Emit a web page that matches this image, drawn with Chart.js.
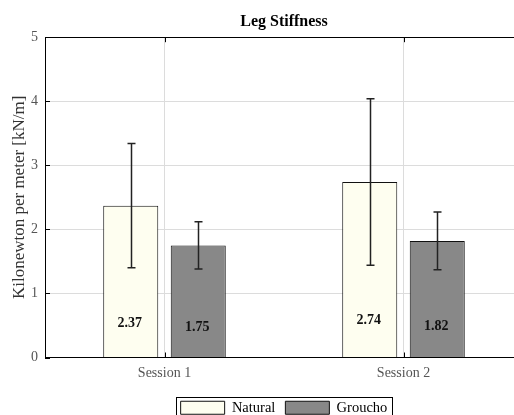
<!DOCTYPE html>
<html>
<head>
    <title>Leg Stiffness</title>
    <script src="https://cdn.jsdelivr.net/npm/chart.js@4.4.1/dist/chart.umd.min.js"></script>
    <style>
        html, body {
            margin: 0;
            padding: 0;
            overflow: hidden;
            background: #fff;
        }

        #chartContainer {
            position: relative;
            width: 514px;
            height: 415px;
            overflow: hidden;
        }
    </style>
</head>
<body>
    <div id="chartContainer">
        <canvas id="stiffnessChart" width="530" height="425"></canvas>
    </div>

    <script>
        const sessions = ['Session 1', 'Session 2'];
        const naturalMean = [2.37, 2.74];
        const naturalSd = [0.97, 1.30];
        const grouchoMean = [1.75, 1.82];
        const grouchoSd = [0.37, 0.45];

        Chart.defaults.font.family = "'Liberation Serif', serif";

        // frame, inner ticks, error bars and value labels
        const extrasPlugin = {
            id: 'extras',
            afterDatasetsDraw(chart) {
                const { ctx, chartArea: a, scales: { x, y } } = chart;
                ctx.save();

                ctx.strokeStyle = '#000';
                ctx.lineWidth = 1;
                ctx.beginPath();
                ctx.moveTo(a.left, Math.round(a.top) + 0.5);
                ctx.lineTo(a.right, Math.round(a.top) + 0.5);
                x.ticks.forEach((t, i) => {
                    const px = Math.round(x.getPixelForTick(i)) + 0.5;
                    ctx.moveTo(px, a.bottom);
                    ctx.lineTo(px, a.bottom - 5);
                    ctx.moveTo(px, a.top);
                    ctx.lineTo(px, a.top + 5);
                });
                y.ticks.forEach((t, i) => {
                    const py = Math.round(y.getPixelForTick(i)) + 0.5;
                    ctx.moveTo(a.left, py);
                    ctx.lineTo(a.left + 5, py);
                });
                ctx.stroke();

                chart.data.datasets.forEach((ds, i) => {
                    const meta = chart.getDatasetMeta(i);
                    meta.data.forEach((bar, j) => {
                        const v = ds.data[j];
                        const e = ds.errors[j];
                        const px = Math.round(bar.x) + 0.5;
                        const top = y.getPixelForValue(v + e);
                        const bot = y.getPixelForValue(v - e);
                        ctx.strokeStyle = '#222';
                        ctx.lineWidth = 1.5;
                        ctx.beginPath();
                        ctx.moveTo(px, top);
                        ctx.lineTo(px, bot);
                        ctx.moveTo(px - 4, top);
                        ctx.lineTo(px + 4, top);
                        ctx.moveTo(px - 4, bot);
                        ctx.lineTo(px + 4, bot);
                        ctx.stroke();

                        ctx.fillStyle = '#111';
                        ctx.font = "bold 14px 'Liberation Serif'";
                        ctx.textAlign = 'center';
                        ctx.textBaseline = 'middle';
                        ctx.fillText(v.toFixed(2), bar.x - 1, y.getPixelForValue(0.3 + v / 10));
                    });
                });
                ctx.restore();
            },
            afterDraw(chart) {
                const boxes = chart.legend.legendHitBoxes;
                if (!boxes || !boxes.length) return;
                const last = boxes[boxes.length - 1];
                const left = Math.round(boxes[0].left - 5) + 0.5;
                const right = Math.round(last.left + last.width + 5) + 0.5;
                const top = Math.round(boxes[0].top - 4) + 0.5;
                const ctx = chart.ctx;
                ctx.save();
                ctx.strokeStyle = '#000';
                ctx.lineWidth = 1;
                ctx.strokeRect(left, top, right - left, 30);
                ctx.restore();
            }
        };

        const ctx = document.getElementById('stiffnessChart').getContext('2d');
        const stiffnessChart = new Chart(ctx, {
            type: 'bar',
            data: {
                labels: sessions,
                datasets: [
                    {
                        label: 'Natural',
                        data: naturalMean,
                        errors: naturalSd,
                        backgroundColor: '#fefef0',
                        borderColor: '#111',
                        borderWidth: 1,
                        borderSkipped: 'start'
                    },
                    {
                        label: 'Groucho',
                        data: grouchoMean,
                        errors: grouchoSd,
                        backgroundColor: '#888888',
                        borderColor: '#111',
                        borderWidth: 1,
                        borderSkipped: 'start'
                    }
                ]
            },
            options: {
                responsive: false,
                animation: false,
                devicePixelRatio: 1,
                categoryPercentage: 0.565,
                barPercentage: 0.815,
                layout: {
                    padding: { left: 0, right: 7, top: 0, bottom: 0 }
                },
                scales: {
                    x: {
                        offset: true,
                        grid: {
                            offset: false,
                            color: '#dcdcdc',
                            drawTicks: false
                        },
                        border: { color: '#000', width: 1 },
                        ticks: {
                            color: '#555',
                            font: { size: 14 },
                            padding: 7
                        },
                        afterFit(scale) {
                            scale.height = 33;
                        }
                    },
                    y: {
                        min: 0,
                        max: 5,
                        grid: {
                            color: '#dcdcdc',
                            drawTicks: false
                        },
                        border: { color: '#000', width: 1 },
                        ticks: {
                            stepSize: 1,
                            color: '#555',
                            font: { size: 14 },
                            padding: 7
                        },
                        title: {
                            display: true,
                            text: 'Kilonewton per meter [kN/m]',
                            color: '#333',
                            font: { size: 17 },
                            padding: { top: 9, bottom: 0 }
                        },
                        afterFit(scale) {
                            scale.width = 45;
                        }
                    }
                },
                plugins: {
                    title: {
                        display: true,
                        fullSize: false,
                        text: 'Leg Stiffness',
                        color: '#000',
                        font: { size: 16, weight: 'bold' },
                        padding: { top: 12, bottom: 6 }
                    },
                    legend: {
                        display: true,
                        position: 'bottom',
                        fullSize: false,
                        labels: {
                            color: '#000',
                            boxWidth: 44,
                            boxHeight: 13,
                            padding: 10,
                            font: { size: 14.5 }
                        }
                    },
                    tooltip: { enabled: false }
                }
            },
            plugins: [extrasPlugin]
        });
    </script>
</body>
</html>
